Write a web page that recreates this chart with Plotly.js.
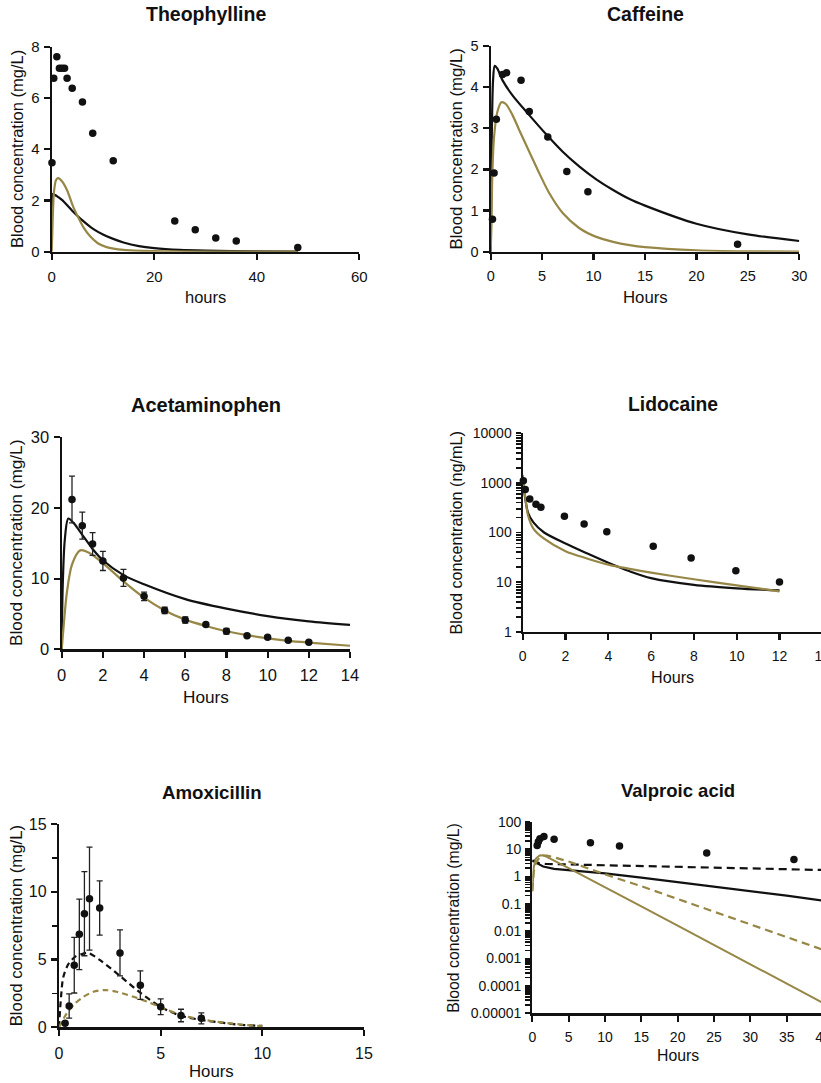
<!DOCTYPE html>
<html>
<head>
<meta charset="utf-8">
<script src="https://cdn.plot.ly/plotly-3.0.1.min.js"></script>
<style>
html,body{margin:0;padding:0;background:#fff;overflow:hidden;}
#chart{width:840px;height:1083px;}
</style>
</head>
<body>
<div id="chart"></div>
<script>
// ---------- DATA ----------
const panelTitles = ["Theophylline", "Caffeine", "Acetaminophen", "Lidocaine", "Amoxicillin", "Valproic acid"];
const xTitles = ["hours", "Hours", "Hours", "Hours", "Hours", "Hours"];
const yTitles = ["Blood concentration (mg/L)", "Blood concentration (mg/L)", "Blood concentration (mg/L)",
                 "Blood concentration (ng/mL)", "Blood concentration (mg/L)", "Blood concentration (mg/L)"];

// Theophylline
const theoT = [0.05, 0.4, 1, 1.5, 2, 2.5, 3, 4, 6, 8, 12, 24, 28, 32, 36, 48];
const theoC = [3.47, 6.77, 7.61, 7.16, 7.16, 7.16, 6.77, 6.38, 5.84, 4.62, 3.55, 1.2, 0.86, 0.53, 0.42, 0.16];
const theoBlackT = [0, 0.05, 0.2, 1, 2, 4, 6, 8, 10, 12, 14, 17, 20, 25, 30, 40, 48];
const theoBlackC = [0.55, 1.6, 2.25, 2.17, 2.02, 1.6, 1.22, 0.9, 0.67, 0.5, 0.36, 0.22, 0.14, 0.07, 0.04, 0.01, 0.005];
const theoOliveT = [0, 0.2, 0.45, 0.85, 1.3, 2, 3, 4.2, 5.2, 6.2, 7.5, 9, 10.7, 14, 20, 30, 48];
const theoOliveC = [0, 1.3, 2.35, 2.8, 2.87, 2.75, 2.4, 1.75, 1.33, 0.95, 0.6, 0.33, 0.18, 0.07, 0.02, 0.005, 0];

// Caffeine
const cafT = [0.17, 0.33, 0.55, 1.15, 1.55, 2.95, 3.75, 5.55, 7.4, 9.45, 24];
const cafC = [0.79, 1.91, 3.22, 4.31, 4.35, 4.17, 3.41, 2.79, 1.95, 1.46, 0.18];
const cafBlackT = [0, 0.1, 0.23, 0.39, 0.65, 1.14, 2.12, 3.75, 5.37, 7, 8.63, 10.26, 11.9, 13.5, 15, 20, 25, 30];
const cafBlackC = [0, 2.7, 4.17, 4.52, 4.45, 4.17, 3.8, 3.32, 2.86, 2.43, 2.07, 1.76, 1.5, 1.28, 1.12, 0.68, 0.42, 0.26];
const cafOliveT = [0, 0.07, 0.16, 0.33, 0.65, 1.04, 1.47, 2.12, 2.77, 3.75, 4.72, 5.7, 7, 8.63, 10.26, 11.9, 13.5, 15, 20, 25, 30];
const cafOliveC = [0, 0.61, 1.9, 2.8, 3.4, 3.63, 3.59, 3.32, 2.96, 2.43, 1.91, 1.42, 0.94, 0.57, 0.36, 0.24, 0.16, 0.11, 0.035, 0.01, 0.003];

// Acetaminophen
const acetT = [0.5, 1, 1.5, 2, 3, 4, 5, 6, 7, 8, 9, 10, 11, 12];
const acetC = [21.2, 17.5, 14.9, 12.5, 10.1, 7.5, 5.5, 4.15, 3.5, 2.55, 1.93, 1.7, 1.27, 1.0];
const acetSD = [3.3, 1.9, 1.6, 1.35, 1.2, 0.6, 0.45, 0.45, 0.2, 0.4, 0.15, 0.15, 0.1, 0.1];
const acetBlackT = [0, 0.05, 0.15, 0.32, 0.6, 1, 1.5, 2, 3, 4, 6, 8, 10, 12, 14];
const acetBlackC = [0, 9, 15.5, 18.5, 17.8, 16.2, 14.2, 12.6, 10.5, 9.2, 7.1, 5.75, 4.7, 3.95, 3.45];
const acetOliveT = [0, 0.1, 0.25, 0.5, 0.9, 1.3, 2, 3, 4, 5, 6, 7, 8, 9, 10, 11, 12, 14];
const acetOliveC = [0, 3.5, 8, 12, 14.0, 13.7, 12.2, 9.6, 7.3, 5.5, 4.2, 3.3, 2.55, 2.0, 1.55, 1.2, 0.95, 0.5];

// Lidocaine
const lidoT = [0.03, 0.12, 0.33, 0.62, 0.85, 1.95, 2.87, 3.93, 6.1, 7.87, 9.96, 12];
const lidoC = [1100, 740, 474, 370, 322, 212, 148, 104, 53, 30.6, 17, 10];
const lidoBlackT = [0, 0.1, 0.25, 0.5, 1, 2, 3, 4, 5, 6, 8, 10, 12];
const lidoBlackC = [1300, 550, 250, 160, 100, 60, 38, 24.5, 16.5, 12, 8.8, 7.5, 6.8];
const lidoOliveT = [0, 0.1, 0.25, 0.5, 1, 2, 3, 4, 5, 6, 8, 10, 12];
const lidoOliveC = [1450, 600, 220, 120, 75, 42, 30, 22.5, 18.5, 15.5, 11.4, 8.6, 6.5];
const lidoTickVals = [1, 10, 100, 1000, 10000];
const lidoTickText = ["1", "10", "100", "1000", "10000"];

// Amoxicillin
const amoxT = [0.3, 0.5, 0.75, 1, 1.25, 1.5, 2, 3, 4, 5, 6, 7];
const amoxC = [0.3, 1.57, 4.58, 6.86, 8.38, 9.49, 8.8, 5.49, 3.11, 1.52, 0.87, 0.66];
const amoxSD = [0.1, 0.9, 2.05, 2.6, 3.1, 3.8, 2.0, 1.7, 1.05, 0.58, 0.46, 0.4];
const amoxBlackT = [0, 0.1, 0.21, 0.46, 0.79, 1.2, 1.44, 2.02, 3, 4, 5, 6, 7, 8, 9, 10];
const amoxBlackC = [0, 2.25, 3.7, 4.66, 5.2, 5.44, 5.49, 4.95, 3.79, 2.55, 1.5, 0.85, 0.54, 0.34, 0.17, 0.1];
const amoxOliveT = [0, 0.38, 0.79, 1.2, 1.69, 2.26, 2.84, 3.66, 4.48, 5, 6, 7, 8, 9, 10];
const amoxOliveC = [0, 1.03, 1.76, 2.25, 2.62, 2.75, 2.62, 2.25, 1.81, 1.5, 0.9, 0.58, 0.36, 0.2, 0.08];

// Valproic acid
const valpT = [0.67, 0.83, 1.05, 1.6, 3, 8, 12, 24, 36];
const valpC = [13.5, 18.5, 24, 29, 23, 17, 13, 7.2, 4.2];
const valpBlackT = [0, 0.3, 0.7, 1.5, 3, 5, 10, 15, 20, 25, 30, 35, 40];
const valpBlackC = [3.5, 3.8, 3.0, 2.3, 1.9, 1.7, 1.3, 0.9, 0.62, 0.43, 0.29, 0.2, 0.13];
const valpBlackDashT = [0, 0.3, 1, 2, 5, 10, 15, 20, 25, 30, 35, 40];
const valpBlackDashC = [3.8, 3.6, 3.0, 2.85, 2.75, 2.6, 2.47, 2.3, 2.15, 2.0, 1.86, 1.72];
const valpOliveT = [0, 0.2, 0.5, 1, 1.5, 2, 5, 10, 15, 20, 25, 30, 35, 40];
const valpOliveC = [0.28, 2.2, 4.5, 5.8, 5.9, 5.2, 2.0, 0.41, 0.08, 0.016, 0.0032, 0.00063, 0.000126, 0.000024];
const valpOliveDashT = [0, 0.2, 0.5, 1, 1.5, 2, 3, 5, 10, 15, 20, 25, 30, 35, 40];
const valpOliveDashC = [0.3, 1.5, 3.2, 5.0, 5.8, 5.8, 5.0, 3.5, 1.2, 0.44, 0.15, 0.052, 0.018, 0.0063, 0.0021];
const valpTickVals = [0.00001, 0.0001, 0.001, 0.01, 0.1, 1, 10, 100];
const valpTickText = ["0.00001", "0.0001", "0.001", "0.01", "0.1", "1", "10", "100"];

// ---------- STYLE / LAYOUT ----------
const W = 840, H = 1083;
const BLACK = '#111111', OLIVE = '#978746';
const FONT = 'Arial, "Liberation Sans", Helvetica, sans-serif';

// pixel boxes of each plot area: [left, right, top, bottom]
const boxes = [
  [51.7, 359.3, 46.7, 251.7],
  [490.7, 799.3, 46, 251.7],
  [61.7, 350, 437.3, 649.3],
  [522.7, 822.3, 433.3, 631.7],
  [59, 364, 824, 1027.3],
  [532.3, 823, 821.7, 1013.3]
];
const tickFonts = [15, 14.5, 16.5, 14, 16, 14];
const titleFonts = [19.5, 19.5, 20, 19.3, 18.7, 18.5];
const axTitleFonts = [16.5, 16.8, 17.2, 16.2, 16.8, 15.8];
const yTitleX = [16.7, 456.7, 16.7, 455, 16.7, 453.3];
const xTitleY = [297, 297, 697, 677, 1071.7, 1055];
const titleY = [14, 14, 405, 404, 792, 790.7];

function line(x, y, color, ax, dash, width) {
  return {x: x, y: y, type: 'scatter', mode: 'lines', xaxis: 'x' + ax, yaxis: 'y' + ax,
    line: {color: color, width: width || 2.2, dash: dash || 'solid', shape: 'spline', smoothing: 0.8},
    hoverinfo: 'skip', showlegend: false};
}
function pts(x, y, ax, sd) {
  const t = {x: x, y: y, type: 'scatter', mode: 'markers', xaxis: 'x' + ax, yaxis: 'y' + ax,
    marker: {color: BLACK, size: 7.5}, cliponaxis: false, showlegend: false};
  if (sd) t.error_y = {type: 'data', array: sd, visible: true, color: '#222', thickness: 1.3, width: 3};
  return t;
}

const data = [
  line(theoBlackT, theoBlackC, BLACK, ''), line(theoOliveT, theoOliveC, OLIVE, ''), pts(theoT, theoC, ''),
  line(cafBlackT, cafBlackC, BLACK, 2), line(cafOliveT, cafOliveC, OLIVE, 2), pts(cafT, cafC, 2),
  line(acetBlackT, acetBlackC, BLACK, 3), line(acetOliveT, acetOliveC, OLIVE, 3), pts(acetT, acetC, 3, acetSD),
  line(lidoBlackT, lidoBlackC, BLACK, 4), line(lidoOliveT, lidoOliveC, OLIVE, 4), pts(lidoT, lidoC, 4),
  line(amoxBlackT, amoxBlackC, BLACK, 5, '6px,4px', 2.2), line(amoxOliveT, amoxOliveC, OLIVE, 5, '6px,4px', 2.2), pts(amoxT, amoxC, 5, amoxSD),
  line(valpBlackDashT, valpBlackDashC, BLACK, 6, '8px,5px', 2.2), line(valpBlackT, valpBlackC, BLACK, 6),
  line(valpOliveDashT, valpOliveDashC, OLIVE, 6, '8px,5px', 2.2), line(valpOliveT, valpOliveC, OLIVE, 6, 'solid', 2),
  pts(valpT, valpC, 6)
];
// valproic panel: straight segments on the log scale
data.forEach(d => { if (d.mode === 'lines' && d.xaxis === 'x6') d.line.shape = 'linear'; });

// log axis ticks: labelled decades plus unlabelled 2..9 positions within each decade
function logTicks(vals, texts) {
  const tv = vals.slice(), tt = texts.slice();
  for (let i = 0; i < vals.length - 1; i++) {
    for (let m = 2; m <= 9; m++) { tv.push(m * vals[i]); tt.push(''); }
  }
  return {tickvals: tv, ticktext: tt, tickmode: 'array'};
}

const xRanges = [[0, 60], [0, 30], [0, 14], [0, 14], [0, 15], [0, 40]];
const xDticks = [20, 5, 2, 2, 5, 5];
const yAxisSpecs = [
  {range: [0, 8], dtick: 2},
  {range: [0, 5], dtick: 1},
  {range: [0, 30], dtick: 10},
  Object.assign({type: 'log', range: [0, 4], ticklen: 5, tickwidth: 1.6}, logTicks(lidoTickVals, lidoTickText)),
  {range: [0, 15], dtick: 5, minor: {dtick: 2.5, ticks: 'outside', ticklen: 5, tickwidth: 1.8, tickcolor: BLACK}},
  Object.assign({type: 'log', range: [-5, 2], ticklen: 5, tickwidth: 1.6}, logTicks(valpTickVals, valpTickText))
];

const layout = {
  width: W, height: H, margin: {l: 0, r: 0, t: 0, b: 0},
  paper_bgcolor: '#fff', plot_bgcolor: '#fff',
  font: {family: FONT, color: BLACK},
  showlegend: false, annotations: []
};

boxes.forEach((b, i) => {
  const k = i === 0 ? '' : String(i + 1);
  const xa = {
    domain: [b[0] / W, b[1] / W], anchor: 'y' + k, range: xRanges[i], dtick: xDticks[i], tick0: 0,
    showline: true, linecolor: BLACK, linewidth: 2.2, ticks: 'outside', ticklen: 6, tickwidth: 2.2, tickcolor: BLACK,
    showgrid: false, zeroline: false, tickfont: {size: tickFonts[i], family: FONT, color: BLACK},
    ticklabelstandoff: 4, fixedrange: true
  };
  const ya = Object.assign({
    domain: [1 - b[3] / H, 1 - b[2] / H], anchor: 'x' + k,
    showline: true, linecolor: BLACK, linewidth: 2.2, ticks: 'outside', ticklen: 6, tickwidth: 2.2, tickcolor: BLACK,
    showgrid: false, zeroline: false, tickfont: {size: tickFonts[i], family: FONT, color: BLACK},
    ticklabelstandoff: 1, fixedrange: true
  }, yAxisSpecs[i]);
  layout['xaxis' + k] = xa;
  layout['yaxis' + k] = ya;

  const cx = (b[0] + b[1]) / 2, cy = (b[2] + b[3]) / 2;
  layout.annotations.push({
    text: '<b>' + panelTitles[i] + '</b>', xref: 'paper', yref: 'paper', x: cx / W, y: 1 - titleY[i] / H,
    xanchor: 'center', yanchor: 'middle', showarrow: false, font: {size: titleFonts[i], family: FONT, color: BLACK}
  });
  layout.annotations.push({
    text: xTitles[i], xref: 'paper', yref: 'paper', x: cx / W, y: 1 - xTitleY[i] / H,
    xanchor: 'center', yanchor: 'middle', showarrow: false, font: {size: axTitleFonts[i], family: FONT, color: BLACK}
  });
  layout.annotations.push({
    text: yTitles[i], xref: 'paper', yref: 'paper', x: yTitleX[i] / W, y: 1 - cy / H, textangle: -90,
    xanchor: 'center', yanchor: 'middle', showarrow: false, font: {size: axTitleFonts[i], family: FONT, color: BLACK}
  });
});

Plotly.newPlot('chart', data, layout, {staticPlot: true, displayModeBar: false});
</script>
</body>
</html>
